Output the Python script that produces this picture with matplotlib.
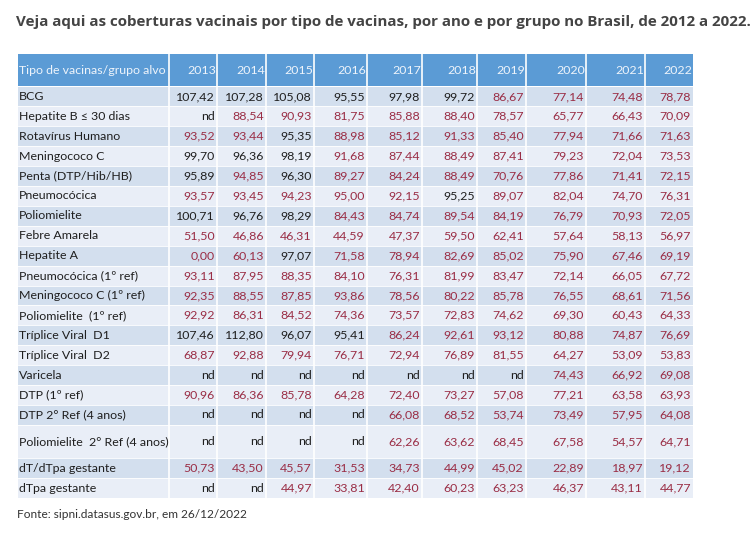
import matplotlib
matplotlib.use("Agg")
import matplotlib.pyplot as plt
from matplotlib.patches import Rectangle

title = "Veja aqui as coberturas vacinais por tipo de vacinas, por ano e por grupo no Brasil, de 2012 a 2022."
header_label = "Tipo de vacinas/grupo alvo"
source = "Fonte: sipni.datasus.gov.br, em 26/12/2022"

years = ["2013", "2014", "2015", "2016", "2017", "2018", "2019", "2020", "2021", "2022"]

vaccines = [
    "BCG",
    "Hepatite B \u2264 30 dias",
    "Rotav\u00edrus Humano",
    "Meningococo C",
    "Penta (DTP/Hib/HB)",
    "Pneumoc\u00f3cica",
    "Poliomielite",
    "Febre Amarela",
    "Hepatite A",
    "Pneumoc\u00f3cica (1\u00ba ref)",
    "Meningococo C (1\u00ba ref)",
    "Poliomielite  (1\u00ba ref)",
    "Tr\u00edplice Viral  D1",
    "Tr\u00edplice Viral  D2",
    "Varicela",
    "DTP (1\u00ba ref)",
    "DTP 2\u00b0 Ref (4 anos)",
    "Poliomielite  2\u00b0 Ref (4 anos)",
    "dT/dTpa gestante",
    "dTpa gestante",
]

nd = None
cov_2013 = [107.42, nd, 93.52, 99.70, 95.89, 93.57, 100.71, 51.50, 0.00, 93.11, 92.35, 92.92, 107.46, 68.87, nd, 90.96, nd, nd, 50.73, nd]
cov_2014 = [107.28, 88.54, 93.44, 96.36, 94.85, 93.45, 96.76, 46.86, 60.13, 87.95, 88.55, 86.31, 112.80, 92.88, nd, 86.36, nd, nd, 43.50, nd]
cov_2015 = [105.08, 90.93, 95.35, 98.19, 96.30, 94.23, 98.29, 46.31, 97.07, 88.35, 87.85, 84.52, 96.07, 79.94, nd, 85.78, nd, nd, 45.57, 44.97]
cov_2016 = [95.55, 81.75, 88.98, 91.68, 89.27, 95.00, 84.43, 44.59, 71.58, 84.10, 93.86, 74.36, 95.41, 76.71, nd, 64.28, nd, nd, 31.53, 33.81]
cov_2017 = [97.98, 85.88, 85.12, 87.44, 84.24, 92.15, 84.74, 47.37, 78.94, 76.31, 78.56, 73.57, 86.24, 72.94, nd, 72.40, 66.08, 62.26, 34.73, 42.40]
cov_2018 = [99.72, 88.40, 91.33, 88.49, 88.49, 95.25, 89.54, 59.50, 82.69, 81.99, 80.22, 72.83, 92.61, 76.89, nd, 73.27, 68.52, 63.62, 44.99, 60.23]
cov_2019 = [86.67, 78.57, 85.40, 87.41, 70.76, 89.07, 84.19, 62.41, 85.02, 83.47, 85.78, 74.62, 93.12, 81.55, nd, 57.08, 53.74, 68.45, 45.02, 63.23]
cov_2020 = [77.14, 65.77, 77.94, 79.23, 77.86, 82.04, 76.79, 57.64, 75.90, 72.14, 76.55, 69.30, 80.88, 64.27, 74.43, 77.21, 73.49, 67.58, 22.89, 46.37]
cov_2021 = [74.48, 66.43, 71.66, 72.04, 71.41, 74.70, 70.93, 58.13, 67.46, 66.05, 68.61, 60.43, 74.87, 53.09, 66.92, 63.58, 57.95, 54.57, 18.97, 43.11]
cov_2022 = [78.78, 70.09, 71.63, 73.53, 72.15, 76.31, 72.05, 56.97, 69.19, 67.72, 71.56, 64.33, 76.69, 53.83, 69.08, 63.93, 64.08, 64.71, 19.12, 44.77]

columns = [cov_2013, cov_2014, cov_2015, cov_2016, cov_2017, cov_2018, cov_2019, cov_2020, cov_2021, cov_2022]
target = 95.0

# ---- layout (pixels) ----
W, H = 754, 538
fig = plt.figure(figsize=(W / 100, H / 100), dpi=100)
ax = fig.add_axes([0, 0, 1, 1])
ax.set_xlim(0, W)
ax.set_ylim(H, 0)
ax.axis("off")

col_edges = [18, 169, 217, 266, 314, 367, 422, 477, 526, 586, 645, 693]
header_top, header_bot = 54, 86
row_h = [19.9] * 17 + [33.5, 19.9, 19.9]

HEADER_BG = "#5b9bd5"
DARK_BG = "#d3dfee"
LIGHT_BG = "#e9eef7"
RED = "#9a2d45"
BLACK = "#1f1f1f"
FONT = "Lato"
FS = 8.9

ax.text(16, 22, title, fontsize=10.9, fontweight="bold", color="#444444",
        family="Open Sans", va="center", ha="left")

# header
ax.add_patch(Rectangle((col_edges[0], header_top), col_edges[-1] - col_edges[0],
                       header_bot - header_top, facecolor=HEADER_BG, edgecolor="none"))
hy = (header_top + header_bot) / 2
ax.text(col_edges[0] + 1, hy, header_label, fontsize=FS, color="#eef4fb", family=FONT,
        va="center", ha="left")
for j, yr in enumerate(years):
    ax.text(col_edges[j + 2] - 1, hy, yr, fontsize=FS, color="#eef4fb", family=FONT,
            va="center", ha="right")

# rows
y = header_bot + 0.5
for i, name in enumerate(vaccines):
    h = row_h[i]
    bg = DARK_BG if i % 2 == 0 else LIGHT_BG
    ax.add_patch(Rectangle((col_edges[0], y), col_edges[-1] - col_edges[0], h,
                           facecolor=bg, edgecolor="none"))
    cy = y + h / 2
    ax.text(col_edges[0] + 1, cy, name, fontsize=FS, color=BLACK, family=FONT,
            va="center", ha="left")
    for j, col in enumerate(columns):
        v = col[i]
        if v is None:
            s, c = "nd", BLACK
        else:
            s = f"{v:.2f}".replace(".", ",")
            c = BLACK if v > target else RED
        ax.text(col_edges[j + 2] - 2, cy, s, fontsize=FS, color=c, family=FONT,
                va="center", ha="right")
    y += h
    ax.plot([col_edges[0], col_edges[-1]], [y, y], color="white", lw=0.6)

table_bottom = y
for x in col_edges[1:-1]:
    ax.plot([x, x], [header_top, table_bottom], color="white", lw=1.2)

ax.text(17, 515, source, fontsize=8.6, color="#333333", family=FONT,
        va="center", ha="left")

fig.savefig("out.png", dpi=100, facecolor="white")
